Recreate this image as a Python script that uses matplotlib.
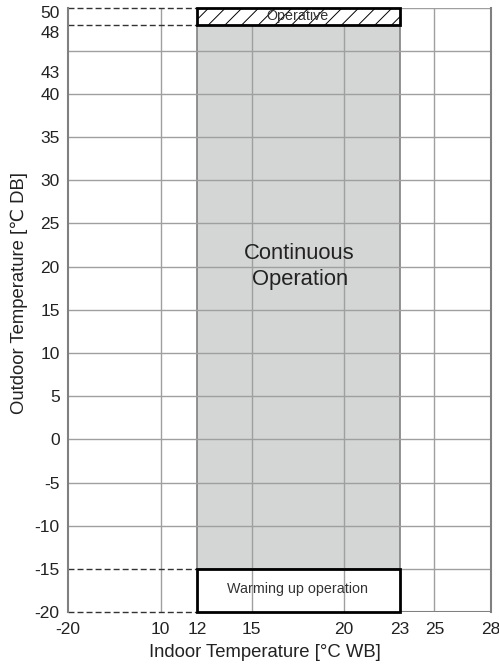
import numpy as np
import matplotlib
matplotlib.use("Agg")
import matplotlib.pyplot as plt
from matplotlib.patches import Rectangle
from matplotlib.transforms import ScaledTranslation

plt.rcParams["font.family"] = ["Liberation Sans", "DejaVu Sans"]
plt.rcParams["hatch.linewidth"] = 0.7

# chart values
indoor_ticks = [-20, 10, 12, 15, 20, 23, 25, 28]
outdoor_ticks = [-20, -15, -10, -5, 0, 5, 10, 15, 20, 25, 30, 35, 40, 43, 48, 50]
grid_indoor = [10, 15, 20, 25]
grid_outdoor = [-10, -5, 0, 5, 10, 15, 20, 25, 30, 35, 40, 45]
indoor_range = (12, 23)
continuous_outdoor = (-15, 48)
operative_outdoor = (48, 50)
warming_outdoor = (-20, -15)
dashed_levels = [50, 48, -15, -20]

# broken indoor axis: where each tick sits along the axis (fraction of width)
tick_frac = [0.0, 0.2193, 0.3059, 0.4346, 0.6523, 0.7855, 0.8666, 1.0]

def fwd(x):
    return np.interp(x, indoor_ticks, tick_frac)

def inv(p):
    return np.interp(p, tick_frac, indoor_ticks)

GRID = "#9f9f9f"
SPINE = "#808080"
FILL = "#d4d6d5"
TXT = "#222222"

fig = plt.figure(figsize=(4.99, 6.65), dpi=100)
ax = fig.add_axes([0.1363, 0.0793, 0.8471, 0.9094])
ax.set_xscale("function", functions=(fwd, inv))
ax.set_xlim(indoor_ticks[0], indoor_ticks[-1])
ax.set_ylim(outdoor_ticks[0], outdoor_ticks[-1])

lo, hi = indoor_range
x0, x1 = indoor_ticks[0], indoor_ticks[-1]

# continuous operation area
ax.add_patch(Rectangle((lo, continuous_outdoor[0]), hi - lo,
                       continuous_outdoor[1] - continuous_outdoor[0],
                       facecolor=FILL, edgecolor=SPINE, lw=1.2, zorder=0.5))

# grid
ax.vlines(grid_indoor, outdoor_ticks[0], outdoor_ticks[-1], color=GRID, lw=1, zorder=1)
ax.hlines(grid_outdoor, x0, x1, color=GRID, lw=1, zorder=1)
ax.hlines([outdoor_ticks[-1], -15], hi, x1, color=GRID, lw=1, zorder=1)
ax.hlines(outdoor_ticks[0], hi, x1, color=SPINE, lw=1.5, zorder=1)

# operative band
ax.add_patch(Rectangle((lo, operative_outdoor[0]), hi - lo,
                       operative_outdoor[1] - operative_outdoor[0],
                       facecolor="white", edgecolor="black", hatch="//",
                       lw=2, zorder=3, clip_on=False))
# warming up band
ax.add_patch(Rectangle((lo, warming_outdoor[0]), hi - lo,
                       warming_outdoor[1] - warming_outdoor[0],
                       facecolor="none", edgecolor="black", lw=2, zorder=3,
                       clip_on=False))

ax.hlines(dashed_levels, x0, lo, color="#333333", lw=1,
          linestyles=(0, (4.3, 2.2)), zorder=2, clip_on=False)

mid = (lo + hi) / 2
ax.text(mid, sum(operative_outdoor) / 2, "Operative", ha="center", va="center",
        fontsize=10.3, color="#333333", zorder=4)
ax.text(mid, sum(warming_outdoor) / 2 + 0.2, "Warming up operation", ha="center",
        va="center", fontsize=10.3, color="#333333", zorder=4)
ax.text(mid + 0.1, 20, "Continuous\nOperation", ha="center", va="center",
        fontsize=15.8, color=TXT, linespacing=1.3, zorder=4)

for side in ["top", "bottom"]:
    ax.spines[side].set_visible(False)
for side in ["left", "right"]:
    ax.spines[side].set_color(SPINE)
    ax.spines[side].set_linewidth(1.5)

ax.set_xticks(indoor_ticks)
ax.set_xticklabels([str(v) for v in indoor_ticks])
ax.set_yticks(outdoor_ticks)
ax.set_yticklabels([str(v) for v in outdoor_ticks])
ax.minorticks_off()
ax.tick_params(axis="both", length=0, labelsize=12.5, labelcolor=TXT)
ax.tick_params(axis="x", pad=7)
ax.tick_params(axis="y", pad=6)

# crowded labels near the top are pushed down a little
shift = {43: 3.0, 48: 5.5, 50: 3.2}
for val, lab in zip(outdoor_ticks, ax.get_yticklabels()):
    if val in shift:
        lab.set_transform(lab.get_transform() +
                          ScaledTranslation(0, -shift[val] / 72, fig.dpi_scale_trans))

ax.set_xlabel("Indoor Temperature [°C WB]", fontsize=13.3, color=TXT)
ax.xaxis.set_label_coords(0.465, -0.053)
ax.set_ylabel("Outdoor Temperature [℃ DB]", fontsize=13.3, color=TXT)
ax.yaxis.set_label_coords(-0.095, 0.528)

fig.savefig("out.png", dpi=100)
